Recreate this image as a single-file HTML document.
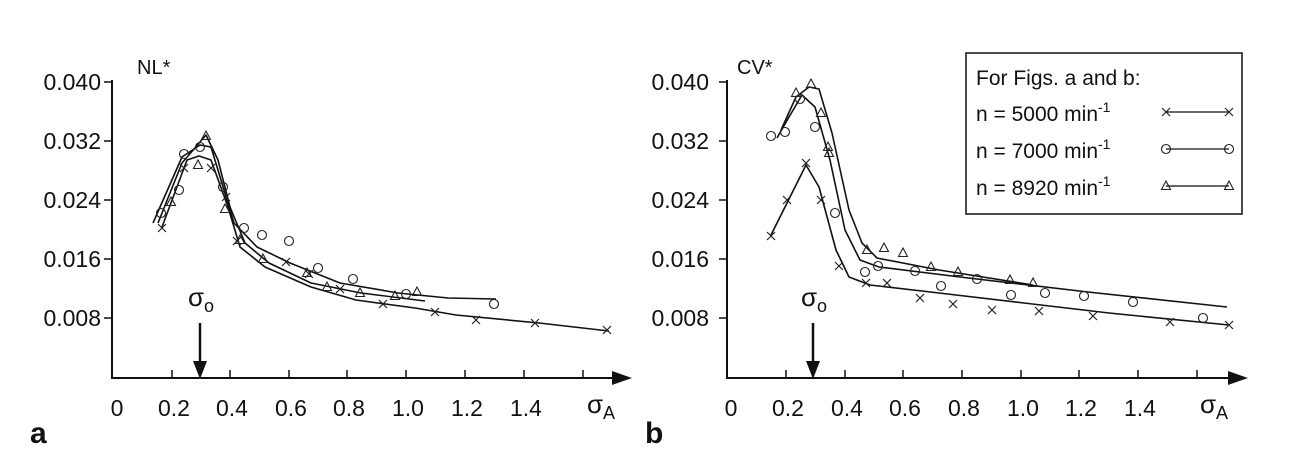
<!DOCTYPE html>
<html><head><style>body{margin:0;background:#fff}svg{display:block}text{font-family:"Liberation Sans",sans-serif;fill:#111}</style></head><body>
<svg width="1309" height="458" viewBox="0 0 1309 458">
<defs>
<g id="mx"><path d="M-4,-4L4,4M-4,4L4,-4" stroke="#222" stroke-width="1.2"/></g>
<g id="mo"><circle r="4.5" fill="none" stroke="#222" stroke-width="1.1"/></g>
<g id="mt"><path d="M0,-5L4.5,3.5L-4.5,3.5Z" fill="none" stroke="#222" stroke-width="1.1"/></g>
</defs>
<g stroke="#111" stroke-width="2" fill="none">
<path d="M112,80V378H615"/><path d="M727,80V378H1232"/>
</g>
<path d="M612,371L632,378L612,385Z" fill="#111"/><path d="M1228,371L1248,378L1228,385Z" fill="#111"/>
<g stroke="#111" stroke-width="1.5">
<path d="M104,82H112M104,141H112M104,200H112M104,259H112M104,318H112"/>
<path d="M719,82H727M719,141H727M719,200H727M719,259H727M719,318H727"/>
<path d="M172,370V378M230,370V378M289,370V378M347,370V378M406,370V378M465,370V378M524,370V378M583,370V378"/>
<path d="M786,370V378M845,370V378M903,370V378M962,370V378M1021,370V378M1079,370V378M1138,370V378M1197,370V378"/>
</g>
<g font-size="23" text-anchor="end">
<text x="101" y="90">0.040</text><text x="101" y="149">0.032</text><text x="101" y="208">0.024</text><text x="101" y="267">0.016</text><text x="101" y="326">0.008</text>
<text x="709" y="90">0.040</text><text x="709" y="149">0.032</text><text x="709" y="208">0.024</text><text x="709" y="267">0.016</text><text x="709" y="326">0.008</text>
</g>
<g font-size="23" text-anchor="middle">
<text x="117" y="416">0</text><text x="174" y="416">0.2</text><text x="232" y="416">0.4</text><text x="291" y="416">0.6</text><text x="349" y="416">0.8</text><text x="408" y="416">1.0</text><text x="467" y="416">1.2</text><text x="526" y="416">1.4</text>
<text x="731" y="416">0</text><text x="788" y="416">0.2</text><text x="847" y="416">0.4</text><text x="905" y="416">0.6</text><text x="964" y="416">0.8</text><text x="1023" y="416">1.0</text><text x="1081" y="416">1.2</text><text x="1140" y="416">1.4</text>
</g>
<text x="587" y="413" font-size="26">σ<tspan font-size="18" dy="6">A</tspan></text>
<text x="1200" y="413" font-size="26">σ<tspan font-size="18" dy="6">A</tspan></text>
<text x="188" y="306" font-size="26">σ<tspan font-size="18" dy="6">o</tspan></text>
<text x="801" y="306" font-size="26">σ<tspan font-size="18" dy="6">o</tspan></text>
<path d="M200,323V365" stroke="#111" stroke-width="2.5"/><path d="M193,361L200,379L207,361Z" fill="#111"/>
<path d="M813,323V365" stroke="#111" stroke-width="2.5"/><path d="M806,361L813,379L820,361Z" fill="#111"/>
<text x="137" y="74" font-size="20">NL*</text><text x="737" y="74" font-size="20">CV*</text>
<text x="30" y="443" font-size="30" font-weight="bold">a</text><text x="645" y="443" font-size="30" font-weight="bold">b</text>
<g fill="none" stroke="#111" stroke-width="1.6" stroke-linejoin="round">
<polyline points="153,223 182,157 200,145 211,147 224,190 234,223 257,247 290,263 340,283 398,293 448,298 496,299"/>
<polyline points="158,223 182,163 206,135 218,160 230,207 245,243 269,263 311,283 361,293 425,301"/>
<polyline points="162,227 187,160 199,156 211,160 228,207 240,247 265,267 311,287 356,300 415,308 456,315 539,323 609,331"/>
<polyline points="771,235 787,203 806,165 819,187 836,250 849,277 870,285 939,293 1024,303 1109,313 1229,325"/>
<polyline points="781,130 796,97 809,87 819,89 832,133 849,210 862,243 877,258 939,270 1033,285"/>
<polyline points="777,138 789,117 802,95 815,107 830,160 845,230 860,260 879,267 960,277 1088,292 1227,307"/>
</g>
<g>
<use href="#mx" x="162" y="228"/><use href="#mx" x="184" y="168"/><use href="#mx" x="211" y="168"/><use href="#mx" x="226" y="197"/><use href="#mx" x="237" y="241"/><use href="#mx" x="286" y="262"/><use href="#mx" x="309" y="274"/><use href="#mx" x="340" y="289"/><use href="#mx" x="383" y="304"/><use href="#mx" x="435" y="312"/><use href="#mx" x="476" y="320"/><use href="#mx" x="535" y="323"/><use href="#mx" x="607" y="330"/>
<use href="#mo" x="161" y="213"/><use href="#mo" x="179" y="190"/><use href="#mo" x="184" y="154"/><use href="#mo" x="200" y="147"/><use href="#mo" x="223" y="187"/><use href="#mo" x="244" y="228"/><use href="#mo" x="262" y="235"/><use href="#mo" x="289" y="241"/><use href="#mo" x="318" y="268"/><use href="#mo" x="353" y="279"/><use href="#mo" x="406" y="294"/><use href="#mo" x="494" y="304"/>
<use href="#mt" x="171" y="202"/><use href="#mt" x="198" y="165"/><use href="#mt" x="206" y="136"/><use href="#mt" x="225" y="209"/><use href="#mt" x="240" y="240"/><use href="#mt" x="263" y="259"/><use href="#mt" x="307" y="273"/><use href="#mt" x="327" y="287"/><use href="#mt" x="360" y="293"/><use href="#mt" x="395" y="296"/><use href="#mt" x="417" y="292"/>
<use href="#mx" x="771" y="236"/><use href="#mx" x="787" y="200"/><use href="#mx" x="806" y="163"/><use href="#mx" x="821" y="200"/><use href="#mx" x="839" y="266"/><use href="#mx" x="866" y="283"/><use href="#mx" x="887" y="283"/><use href="#mx" x="920" y="298"/><use href="#mx" x="953" y="304"/><use href="#mx" x="992" y="310"/><use href="#mx" x="1039" y="311"/><use href="#mx" x="1093" y="316"/><use href="#mx" x="1170" y="322"/><use href="#mx" x="1229" y="325"/>
<use href="#mo" x="771" y="136"/><use href="#mo" x="785" y="132"/><use href="#mo" x="800" y="99"/><use href="#mo" x="815" y="127"/><use href="#mo" x="835" y="213"/><use href="#mo" x="865" y="272"/><use href="#mo" x="878" y="266"/><use href="#mo" x="915" y="271"/><use href="#mo" x="941" y="286"/><use href="#mo" x="977" y="279"/><use href="#mo" x="1011" y="295"/><use href="#mo" x="1045" y="293"/><use href="#mo" x="1084" y="296"/><use href="#mo" x="1133" y="302"/><use href="#mo" x="1203" y="318"/>
<use href="#mt" x="796" y="93"/><use href="#mt" x="811" y="84"/><use href="#mt" x="821" y="113"/><use href="#mt" x="828" y="147"/><use href="#mt" x="829" y="153"/><use href="#mt" x="867" y="250"/><use href="#mt" x="884" y="248"/><use href="#mt" x="903" y="253"/><use href="#mt" x="931" y="267"/><use href="#mt" x="958" y="272"/><use href="#mt" x="1010" y="280"/><use href="#mt" x="1033" y="283"/>
</g>
<rect x="966" y="53" width="276" height="161" fill="#fff" stroke="#111" stroke-width="1.5"/>
<g font-size="21">
<text x="976" y="85">For Figs. a and b:</text>
<text x="976" y="121">n = 5000 min<tspan font-size="14" dy="-9">-1</tspan></text>
<text x="976" y="158">n = 7000 min<tspan font-size="14" dy="-9">-1</tspan></text>
<text x="976" y="195">n = 8920 min<tspan font-size="14" dy="-9">-1</tspan></text>
</g>
<path d="M1166,112H1229M1166,149H1229M1166,186H1229" stroke="#111" stroke-width="1.3"/>
<use href="#mx" x="1166" y="112"/><use href="#mx" x="1229" y="112"/>
<use href="#mo" x="1166" y="149"/><use href="#mo" x="1229" y="149"/>
<use href="#mt" x="1166" y="186"/><use href="#mt" x="1229" y="186"/>
</svg>
</body></html>
